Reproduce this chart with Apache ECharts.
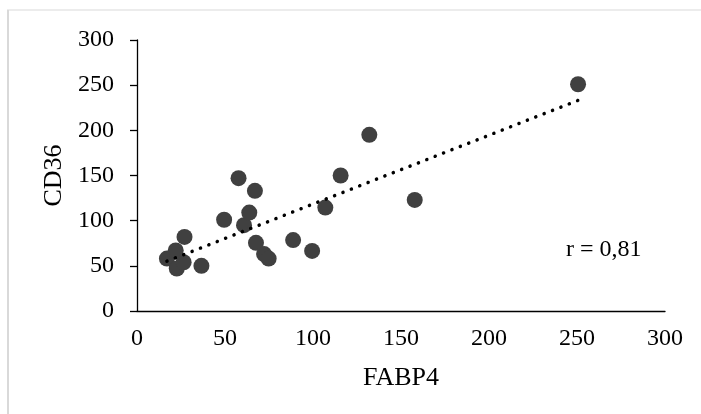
<!DOCTYPE html>
<html>
<head>
<meta charset="utf-8">
<script src="https://cdn.jsdelivr.net/npm/echarts@6/dist/echarts.min.js"></script>
<style>
  html, body { margin: 0; padding: 0; background: #fff; }
  #chart { width: 701px; height: 414px; }
</style>
</head>
<body>
<div id="chart"></div>
<script>
// values
const fabp4 = [17, 22, 22.6, 26.5, 27, 36.6, 49.5, 57.7, 60.8, 63.8, 67, 67.6, 72.2, 74.8, 88.7, 99.5, 107, 115.7, 132, 157.8, 250.6];
const cd36 = [58, 67, 47, 54, 82, 50, 101, 147, 95, 109, 133, 75.5, 63, 58, 78.5, 66.5, 114.5, 150, 195, 123, 251];
const tickValues = [0, 50, 100, 150, 200, 250, 300];
const rLabel = 'r = 0,81';

const font = '"Liberation Serif", "Times New Roman", serif';

const points = fabp4.map((x, i) => [x, cd36[i]]);

// least squares trend line, like the excel linear trendline
const n = fabp4.length;
const mx = fabp4.reduce((a, b) => a + b, 0) / n;
const my = cd36.reduce((a, b) => a + b, 0) / n;
let sxy = 0, sxx = 0;
for (let i = 0; i < n; i++) {
    sxy += (fabp4[i] - mx) * (cd36[i] - my);
    sxx += (fabp4[i] - mx) * (fabp4[i] - mx);
}
const slope = sxy / sxx;
const icpt = my - slope * mx;
const xMin = Math.min(...fabp4);
const xMax = Math.max(...fabp4);
const trend = [[xMin, icpt + slope * xMin], [xMax, icpt + slope * xMax]];

const chart = echarts.init(document.getElementById('chart'));

const option = {
    animation: false,
    backgroundColor: '#fff',
    grid: { left: 137, right: 36, top: 40, bottom: 103 },
    xAxis: {
        type: 'value',
        min: tickValues[0],
        max: tickValues[tickValues.length - 1],
        interval: 50,
        name: 'FABP4',
        nameLocation: 'middle',
        nameGap: 54,
        nameTextStyle: { fontFamily: font, fontSize: 26, color: '#000' },
        axisLine: { onZero: false, lineStyle: { color: '#000', width: 1.3 } },
        axisTick: { show: false },
        axisLabel: { margin: 16, fontFamily: font, fontSize: 24, color: '#000' },
        splitLine: { show: false }
    },
    yAxis: {
        type: 'value',
        min: tickValues[0],
        max: tickValues[tickValues.length - 1],
        interval: 50,
        name: 'CD36',
        nameLocation: 'middle',
        nameGap: 66,
        nameRotate: 90,
        nameTextStyle: { fontFamily: font, fontSize: 26, color: '#000' },
        axisLine: { show: true, lineStyle: { color: '#000', width: 1.3 } },
        axisTick: { show: true, length: 7, lineStyle: { color: '#000', width: 1.3 } },
        axisLabel: { margin: 23, fontFamily: font, fontSize: 24, color: '#000' },
        splitLine: { show: false }
    },
    series: [
        {
            type: 'line',
            data: trend,
            symbol: 'none',
            silent: true,
            z: 3,
            lineStyle: { color: '#000', width: 3.5, type: [0.1, 8.9], cap: 'round' }
        },
        {
            type: 'scatter',
            data: points,
            symbolSize: 16,
            z: 2,
            itemStyle: { color: '#404040', opacity: 1 }
        }
    ],
    graphic: [
        { type: 'line', shape: { x1: 7, y1: 10, x2: 701, y2: 10 }, style: { stroke: '#d9d9d9', lineWidth: 1 } },
        { type: 'line', shape: { x1: 8, y1: 10, x2: 8, y2: 414 }, style: { stroke: '#d9d9d9', lineWidth: 2 } },
        {
            type: 'text', left: 566, top: 238,
            style: { text: rLabel, font: '24px ' + font, fill: '#000' }
        }
    ]
};

chart.setOption(option);
</script>
</body>
</html>
